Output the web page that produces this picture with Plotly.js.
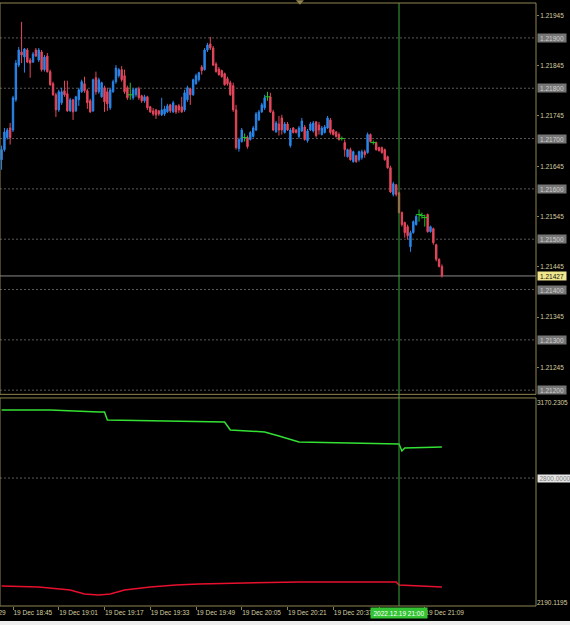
<!DOCTYPE html>
<html><head><meta charset="utf-8">
<script src="https://cdn.plot.ly/plotly-3.0.1.min.js"></script>
<style>html,body{margin:0;padding:0;background:#000;}#chart{width:570px;height:625px;}</style>
</head><body><div id="chart"></div>
<script>
// ---- data: one-minute candles starting 2022-12-19 18:41 ----
const dayStr = '2022-12-19';
const firstMinute = 18 * 60 + 41;
const openP = [1.21658,1.21678,1.21702,1.21721,1.21717,1.21777,1.21846,1.21872,1.21862,1.21876,
1.21856,1.21852,1.21876,1.21856,1.21872,1.21837,1.21864,1.21833,1.21809,1.21787,
1.21757,1.21771,1.21795,1.21789,1.21755,1.21777,1.21755,1.21777,1.21793,1.21809,
1.21795,1.21775,1.21755,1.21821,1.21793,1.21783,1.21801,1.21793,1.21761,1.21793,
1.21813,1.21825,1.21837,1.21825,1.21801,1.21787,1.21781,1.21787,1.21799,1.21785,
1.21775,1.21783,1.21763,1.21755,1.21757,1.21755,1.21747,1.21749,1.21753,1.21767,
1.21753,1.21765,1.21765,1.21763,1.21757,1.21777,1.21799,1.21787,1.21809,1.21817,
1.21842,1.21837,1.21876,1.21888,1.21880,1.21848,1.21838,1.21835,1.21829,1.21819,
1.21811,1.21805,1.21757,1.21680,1.21694,1.21702,1.21702,1.21698,1.21704,1.21717,
1.21737,1.21753,1.21761,1.21783,1.21783,1.21753,1.21713,1.21729,1.21741,1.21712,
1.21729,1.21686,1.21721,1.21717,1.21704,1.21715,1.21723,1.21696,1.21717,1.21715,
1.21733,1.21727,1.21708,1.21712,1.21721,1.21737,1.21717,1.21713,1.21708,1.21700,
1.21692,1.21664,1.21678,1.21654,1.21666,1.21658,1.21662,1.21674,1.21672,1.21708,
1.21692,1.21692,1.21682,1.21682,1.21678,1.21664,1.21642,1.21589,1.21608,1.21592,
1.21553,1.21533,1.21525,1.21485,1.21513,1.21529,1.21549,1.21547,1.21543,1.21549,
1.21515,1.21521,1.21489,1.21460,1.21446];
const highP = [1.21686,1.21721,1.21721,1.21731,1.21785,1.21856,1.21882,1.21932,1.21880,1.21880,
1.21860,1.21872,1.21880,1.21880,1.21876,1.21866,1.21870,1.21837,1.21813,1.21791,
1.21797,1.21801,1.21815,1.21815,1.21781,1.21779,1.21785,1.21801,1.21817,1.21823,
1.21799,1.21779,1.21819,1.21833,1.21821,1.21813,1.21805,1.21801,1.21801,1.21817,
1.21846,1.21840,1.21844,1.21837,1.21805,1.21811,1.21801,1.21801,1.21803,1.21787,
1.21787,1.21785,1.21765,1.21761,1.21759,1.21757,1.21781,1.21765,1.21769,1.21769,
1.21775,1.21767,1.21769,1.21783,1.21797,1.21805,1.21801,1.21819,1.21829,1.21833,
1.21846,1.21880,1.21890,1.21902,1.21884,1.21852,1.21842,1.21837,1.21831,1.21823,
1.21815,1.21811,1.21767,1.21702,1.21721,1.21710,1.21706,1.21715,1.21725,1.21753,
1.21757,1.21771,1.21787,1.21793,1.21791,1.21757,1.21735,1.21745,1.21747,1.21733,
1.21733,1.21721,1.21723,1.21719,1.21725,1.21741,1.21727,1.21719,1.21733,1.21735,
1.21735,1.21733,1.21725,1.21727,1.21745,1.21741,1.21719,1.21715,1.21712,1.21704,
1.21698,1.21680,1.21682,1.21676,1.21668,1.21676,1.21678,1.21678,1.21712,1.21710,
1.21696,1.21694,1.21684,1.21684,1.21680,1.21666,1.21646,1.21614,1.21610,1.21594,
1.21555,1.21535,1.21529,1.21517,1.21537,1.21549,1.21559,1.21553,1.21549,1.21551,
1.21527,1.21523,1.21491,1.21462,1.21450];
const lowP = [1.21638,1.21674,1.21698,1.21688,1.21713,1.21773,1.21842,1.21850,1.21831,1.21850,
1.21821,1.21850,1.21862,1.21852,1.21833,1.21833,1.21831,1.21805,1.21785,1.21743,
1.21753,1.21767,1.21783,1.21753,1.21753,1.21737,1.21753,1.21765,1.21791,1.21791,
1.21759,1.21751,1.21753,1.21787,1.21789,1.21781,1.21753,1.21755,1.21757,1.21791,
1.21809,1.21821,1.21813,1.21789,1.21777,1.21777,1.21777,1.21783,1.21777,1.21771,
1.21771,1.21757,1.21751,1.21745,1.21739,1.21745,1.21745,1.21745,1.21751,1.21751,
1.21751,1.21749,1.21751,1.21751,1.21753,1.21773,1.21767,1.21785,1.21807,1.21813,
1.21827,1.21835,1.21872,1.21876,1.21844,1.21831,1.21825,1.21821,1.21805,1.21805,
1.21785,1.21753,1.21678,1.21674,1.21692,1.21694,1.21680,1.21696,1.21702,1.21715,
1.21735,1.21751,1.21757,1.21775,1.21751,1.21715,1.21712,1.21706,1.21708,1.21710,
1.21715,1.21682,1.21710,1.21710,1.21700,1.21713,1.21696,1.21692,1.21715,1.21712,
1.21702,1.21708,1.21706,1.21710,1.21719,1.21708,1.21706,1.21702,1.21696,1.21696,
1.21664,1.21662,1.21656,1.21652,1.21652,1.21654,1.21658,1.21662,1.21670,1.21692,
1.21688,1.21676,1.21674,1.21670,1.21656,1.21640,1.21592,1.21585,1.21585,1.21551,
1.21525,1.21503,1.21499,1.21475,1.21511,1.21527,1.21535,1.21541,1.21525,1.21513,
1.21513,1.21489,1.21456,1.21444,1.21424];
const closeP = [1.21678,1.21713,1.21717,1.21702,1.21781,1.21850,1.21876,1.21866,1.21878,1.21852,
1.21850,1.21868,1.21864,1.21876,1.21837,1.21862,1.21833,1.21807,1.21787,1.21757,
1.21793,1.21793,1.21787,1.21755,1.21777,1.21753,1.21783,1.21797,1.21813,1.21795,
1.21771,1.21753,1.21817,1.21793,1.21817,1.21811,1.21773,1.21769,1.21797,1.21813,
1.21840,1.21837,1.21817,1.21793,1.21781,1.21787,1.21797,1.21799,1.21781,1.21775,
1.21783,1.21761,1.21753,1.21749,1.21747,1.21749,1.21757,1.21759,1.21765,1.21755,
1.21771,1.21753,1.21757,1.21753,1.21791,1.21801,1.21787,1.21817,1.21825,1.21831,
1.21835,1.21876,1.21886,1.21880,1.21846,1.21833,1.21827,1.21823,1.21807,1.21809,
1.21787,1.21757,1.21682,1.21698,1.21717,1.21702,1.21684,1.21712,1.21721,1.21749,
1.21753,1.21767,1.21781,1.21783,1.21753,1.21717,1.21731,1.21717,1.21717,1.21729,
1.21717,1.21717,1.21712,1.21712,1.21721,1.21735,1.21698,1.21715,1.21729,1.21731,
1.21706,1.21717,1.21721,1.21723,1.21741,1.21712,1.21708,1.21704,1.21698,1.21700,
1.21678,1.21678,1.21658,1.21674,1.21654,1.21674,1.21674,1.21668,1.21708,1.21694,
1.21692,1.21678,1.21676,1.21672,1.21658,1.21642,1.21594,1.21610,1.21589,1.21553,
1.21529,1.21513,1.21507,1.21513,1.21535,1.21545,1.21549,1.21547,1.21543,1.21515,
1.21525,1.21493,1.21460,1.21446,1.21427];

// lower indicator window (two lines)
const greenTimes = ['18:41','18:58','19:15','19:17','19:18','19:59','20:01','20:13','20:18','20:25','21:00','21:01','21:02','21:15'];
const greenVals  = [3133.5,3133.5,3123.7,3123.7,3084.5,3074.7,3035.5,3025.7,3006.1,2976.6,2966.9,2932.6,2947.3,2952.2];
const redTimes = ['18:41','18:54','19:05','19:10','19:15','19:19','19:24','19:33','19:42','19:50','20:25','20:59','21:00','21:15'];
const redVals  = [2271.1,2266.2,2251.5,2231.9,2227.0,2231.9,2251.5,2266.2,2276.0,2280.9,2290.7,2290.7,2276.0,2266.2];

// axis labels (the 20:53 label is hidden under the crosshair time box in the original)
const xTickTimes = ['18:45','19:01','19:17','19:33','19:49','20:05','20:21','20:37','20:53','21:09'];
const xTickText = ['19 Dec 18:45','19 Dec 19:01','19 Dec 19:17','19 Dec 19:33','19 Dec 19:49','19 Dec 20:05','19 Dec 20:21','19 Dec 20:37','','19 Dec 21:09'];
const priceTicks = [1.21245,1.21345,1.21445,1.21545,1.21645,1.21745,1.21845,1.21945];
const priceGrid = [1.21200,1.21300,1.21400,1.21500,1.21600,1.21700,1.21800,1.21900];
const indTicks = [2190.1195,3170.2305];
const indLevel = 2800.0;
const crossTime = '21:00';
const crossLabel = '2022.12.19 21:00';
const leftCutLabel = '19 Dec 18:29';

// ---- helpers ----
function pad(n){return (n<10?'0':'')+n;}
function stamp(hm){return dayStr+' '+hm;}
const times = openP.map((_,i)=>{const t=firstMinute+i;return stamp(pad(Math.floor(t/60))+':'+pad(t%60));});

const FONT = 'Liberation Sans, Arial, sans-serif';
const TXT = '#d6cfa0';
const FRAME = '#8f8450';
const BULL = '#2a86ea', BEAR = '#e4475c', DOJI = '#22c322';

const idxC = [], idxD = [];
openP.forEach((o,i)=>{ (o===closeP[i]?idxD:idxC).push(i); });
const pick=(a,ix)=>ix.map(i=>a[i]);

const candles = {
  type:'candlestick', xaxis:'x', yaxis:'y',
  x:pick(times,idxC), open:pick(openP,idxC), high:pick(highP,idxC), low:pick(lowP,idxC), close:pick(closeP,idxC),
  increasing:{line:{color:BULL,width:1},fillcolor:BULL},
  decreasing:{line:{color:BEAR,width:1},fillcolor:BEAR},
  whiskerwidth:0, hoverinfo:'skip', showlegend:false
};
const dx=[],dy=[];
idxD.forEach(i=>{dx.push(times[i],times[i],null);dy.push(highP[i],lowP[i],null);});
const dojiWicks = {type:'scatter',mode:'lines',x:dx,y:dy,xaxis:'x',yaxis:'y',line:{color:DOJI,width:1},hoverinfo:'skip',showlegend:false};
const dojiBars = {type:'scatter',mode:'markers',x:pick(times,idxD),y:pick(openP,idxD),xaxis:'x',yaxis:'y',
  marker:{symbol:'line-ew',size:4,line:{color:DOJI,width:1}},hoverinfo:'skip',showlegend:false};

const gLine = {type:'scatter',mode:'lines',x:greenTimes.map(stamp),y:greenVals,xaxis:'x',yaxis:'y2',line:{color:'#34e034',width:1.5},hoverinfo:'skip',showlegend:false};
const rLine = {type:'scatter',mode:'lines',x:redTimes.map(stamp),y:redVals,xaxis:'x',yaxis:'y2',line:{color:'#e8102e',width:1.5},hoverinfo:'skip',showlegend:false};

const lastClose = closeP[closeP.length-1];
const shapes = [];
priceGrid.forEach(v=>shapes.push({type:'line',xref:'paper',x0:0,x1:1,yref:'y',y0:v,y1:v,layer:'below',line:{color:'#5a5a5a',width:1,dash:'2px,2px'}}));
shapes.push({type:'line',xref:'paper',x0:0,x1:1,yref:'y2',y0:indLevel,y1:indLevel,layer:'below',line:{color:'#5a5a5a',width:1,dash:'2px,2px'}});
shapes.push({type:'line',xref:'paper',x0:0,x1:1,yref:'y',y0:lastClose,y1:lastClose,layer:'below',line:{color:'#8a8a8a',width:1}});
shapes.push({type:'line',xref:'x',x0:stamp(crossTime),x1:stamp(crossTime),yref:'paper',y0:0,y1:1,line:{color:'#3aa63a',width:1}});
shapes.push({type:'rect',xref:'paper',x0:0,x1:1,yref:'paper',y0:0.351,y1:1,line:{color:FRAME,width:1}});
shapes.push({type:'rect',xref:'paper',x0:0,x1:1,yref:'paper',y0:0,y1:0.345,line:{color:FRAME,width:1}});
shapes.push({type:'path',xref:'paper',yref:'paper',path:'M 0.552 1.0045 L 0.567 1.0045 L 0.5595 0.997 Z',fillcolor:FRAME,line:{color:FRAME,width:0}});
shapes.push({type:'rect',xref:'paper',yref:'paper',x0:-0.01,x1:1.1,y0:-0.05,y1:-0.025,fillcolor:'#eeeeee',line:{width:0}});

const annotations = [];
priceGrid.forEach(v=>annotations.push({xref:'paper',x:1,xanchor:'left',xshift:1,yref:'y',y:v,yanchor:'middle',
  text:v.toFixed(5),showarrow:false,bgcolor:'#767676',width:28,height:8,borderpad:0,font:{family:FONT,size:6.5,color:'#cfcfcf'}}));
annotations.push({xref:'paper',x:1,xanchor:'left',xshift:1,yref:'y',y:lastClose,yanchor:'middle',text:lastClose.toFixed(5),
  showarrow:false,bgcolor:'#f0e68c',width:28,height:8,borderpad:0,font:{family:FONT,size:6.5,color:'#111'}});
annotations.push({xref:'paper',x:1,xanchor:'left',xshift:1,yref:'y2',y:indLevel,yanchor:'middle',text:indLevel.toFixed(4),
  showarrow:false,bgcolor:'#e6e6e6',width:34,height:7,borderpad:0,font:{family:FONT,size:6.5,color:'#7a7a7a'}});
annotations.push({xref:'x',x:stamp(crossTime),xanchor:'center',yref:'paper',y:-0.0116,yanchor:'middle',text:crossLabel,
  showarrow:false,bgcolor:'#33c433',width:56,height:10,borderpad:0,font:{family:FONT,size:6.5,color:'#ffffff'}});
annotations.push({xref:'paper',x:8/536,xanchor:'right',yref:'paper',y:-0.0116,yanchor:'middle',text:leftCutLabel,
  showarrow:false,font:{family:FONT,size:6.5,color:TXT}});

const layout = {
  width:570,height:625,
  margin:{l:0,r:34,t:3,b:19,pad:0},
  paper_bgcolor:'#000',plot_bgcolor:'#000',
  showlegend:false,
  xaxis:{type:'date',anchor:'y2',domain:[0,1],range:[stamp('18:40:27'),stamp('21:47:54')],
    rangeslider:{visible:false},showgrid:false,zeroline:false,showline:false,
    tickvals:xTickTimes.map(stamp),ticktext:xTickText,tickangle:0,
    ticks:'outside',ticklen:3,tickcolor:FRAME,ticklabelposition:'outside right',
    tickfont:{family:FONT,size:6.5,color:TXT},fixedrange:true},
  yaxis:{domain:[0.351,1],anchor:'x',side:'right',range:[1.211917,1.219694],
    showgrid:false,zeroline:false,showline:false,tickvals:priceTicks,tickformat:'.5f',
    ticks:'outside',ticklen:2,tickcolor:FRAME,tickfont:{family:FONT,size:6.5,color:TXT},fixedrange:true},
  yaxis2:{domain:[0,0.345],anchor:'x',side:'right',range:[2173.0,3192.3],
    showgrid:false,zeroline:false,showline:false,tickvals:indTicks,ticktext:indTicks.map(v=>v.toFixed(4)),
    ticks:'',tickfont:{family:FONT,size:6.5,color:TXT},fixedrange:true},
  shapes:shapes, annotations:annotations
};

Plotly.newPlot('chart',[candles,dojiWicks,dojiBars,gLine,rLine],layout,{staticPlot:true,displayModeBar:false});
</script>
</body></html>
